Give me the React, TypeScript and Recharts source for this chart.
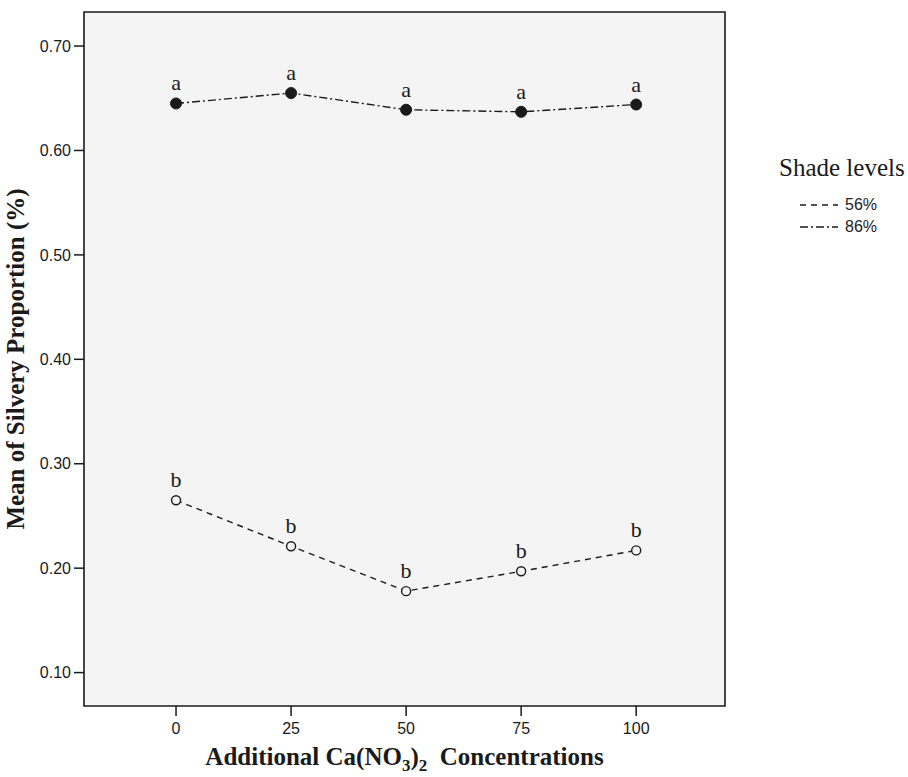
import { LineChart, Line, XAxis, YAxis, ReferenceArea, LabelList, Legend, Label } from "recharts"

// Additional Ca(NO3)2 concentrations
const concentrations = [0, 25, 50, 75, 100]
// mean silvery proportion per shade level
const shade56 = [0.265, 0.221, 0.178, 0.197, 0.217]
const shade86 = [0.645, 0.655, 0.639, 0.637, 0.644]
// significance letters
const letters56 = ["b", "b", "b", "b", "b"]
const letters86 = ["a", "a", "a", "a", "a"]

const xTicks = [0, 25, 50, 75, 100]
const yTicks = [0.1, 0.2, 0.3, 0.4, 0.5, 0.6, 0.7]

const X_DOMAIN: [number, number] = [-20, 119.3]
const Y_DOMAIN: [number, number] = [0.068, 0.7326]

const data = concentrations.map((c, i) => ({
  conc: c,
  s56: shade56[i],
  s86: shade86[i],
  l56: letters56[i],
  l86: letters86[i],
}))

const SANS = "'Liberation Sans', Arial, sans-serif"
const SERIF = "'Liberation Serif', 'Times New Roman', serif"
const INK = "#1a1a1a"

const DASH_56 = "6 5"
const DASH_86 = "8 3 2 3"

function HollowDot(props: any) {
  const { cx, cy } = props
  if (cx == null || cy == null) return null
  return <circle cx={cx} cy={cy} r={4.5} fill="#f4f4f4" stroke={INK} strokeWidth={1.4} />
}

function FilledDot(props: any) {
  const { cx, cy } = props
  if (cx == null || cy == null) return null
  return <circle cx={cx} cy={cy} r={5.5} fill={INK} stroke={INK} strokeWidth={1} />
}

function XTitle(props: any) {
  const vb = props.viewBox
  if (!vb) return null
  const cx = vb.x + vb.width / 2
  return (
    <text x={cx} y={vb.y + 59} textAnchor="middle" fontFamily={SERIF} fontWeight="bold" fontSize={25} fill={INK}>
      Additional Ca(NO
      <tspan fontSize={17} dy={6}>3</tspan>
      <tspan dy={-6}>)</tspan>
      <tspan fontSize={17} dy={6}>2</tspan>
      <tspan dy={-6}>{"\u00a0 Concentrations"}</tspan>
    </text>
  )
}

function ShadeLegend(props: any) {
  const payload = props.payload || []
  return (
    <div style={{ fontFamily: SERIF, color: INK }}>
      <div style={{ fontSize: 25, lineHeight: "28px", marginBottom: 12, whiteSpace: "nowrap" }}>Shade levels</div>
      {payload.map((entry: any) => (
        <div key={entry.value} style={{ display: "flex", alignItems: "center", height: 22, paddingLeft: 21 }}>
          <svg width={38} height={10} style={{ marginRight: 7 }}>
            <line x1={0} y1={5} x2={38} y2={5} stroke={INK} strokeWidth={1.5}
              strokeDasharray={entry.payload?.strokeDasharray} />
          </svg>
          <span style={{ fontFamily: SANS, fontSize: 16, color: "#222" }}>{entry.value}</span>
        </div>
      ))}
    </div>
  )
}

export default function App() {
  return (
    <div style={{ position: "absolute", left: 0, top: 0, background: "#fff" }}>
      <LineChart width={908} height={777} data={data} margin={{ top: 12, right: 183, left: 0, bottom: 0 }}>
        <ReferenceArea x1={X_DOMAIN[0]} x2={X_DOMAIN[1]} y1={Y_DOMAIN[0]} y2={Y_DOMAIN[1]}
          fill="#f4f4f4" fillOpacity={1} stroke={INK} strokeWidth={1.6} ifOverflow="extendDomain" />
        <XAxis dataKey="conc" type="number" domain={X_DOMAIN} ticks={xTicks} allowDataOverflow
          height={71} axisLine={false} tickLine={{ stroke: INK, strokeWidth: 1.5 }} tickSize={10} tickMargin={7}
          tick={{ fontFamily: SANS, fontSize: 16, fill: INK }}>
          <Label content={<XTitle />} />
        </XAxis>
        <YAxis type="number" domain={Y_DOMAIN} ticks={yTicks} allowDataOverflow width={84}
          axisLine={false} tickLine={{ stroke: INK, strokeWidth: 1.5 }} tickSize={10} tickMargin={3}
          tickFormatter={(v: number) => v.toFixed(2)}
          tick={{ fontFamily: SANS, fontSize: 16, fill: INK }}>
          <Label value="Mean of Silvery Proportion (%)" angle={-90} position="insideLeft" offset={15}
            style={{ textAnchor: "middle", fontFamily: SERIF, fontWeight: "bold", fontSize: 25, fill: INK }} />
        </YAxis>
        <Legend content={<ShadeLegend />} layout="vertical" align="center" verticalAlign="middle"
          wrapperStyle={{ position: "absolute", left: 779, top: 154, width: 129 }} />
        <Line dataKey="s56" name="56%" stroke={INK} strokeWidth={1.4} strokeDasharray={DASH_56}
          dot={<HollowDot />} activeDot={false} isAnimationActive={false}>
          <LabelList dataKey="l56" position="top" offset={13}
            style={{ fontFamily: SERIF, fontSize: 22, fill: INK }} />
        </Line>
        <Line dataKey="s86" name="86%" stroke={INK} strokeWidth={1.4} strokeDasharray={DASH_86}
          dot={<FilledDot />} activeDot={false} isAnimationActive={false}>
          <LabelList dataKey="l86" position="top" offset={13}
            style={{ fontFamily: SERIF, fontSize: 22, fill: INK }} />
        </Line>
      </LineChart>
    </div>
  )
}
